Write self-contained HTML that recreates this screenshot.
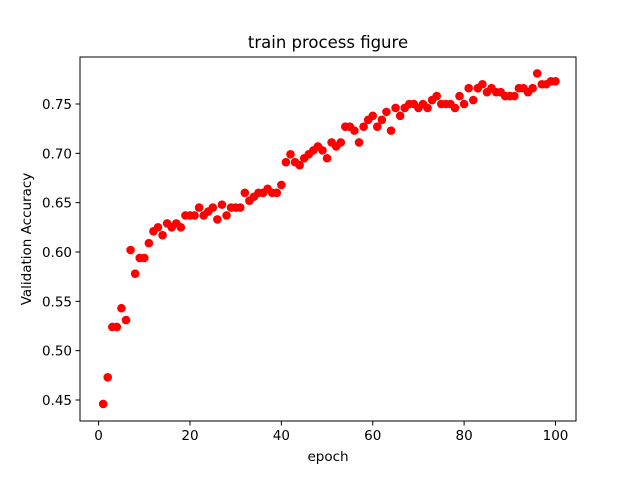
<!DOCTYPE html>
<html><head><meta charset="utf-8"><style>
html,body{margin:0;padding:0;background:#fff;}
svg text{font-family:"DejaVu Sans","Liberation Sans",sans-serif;fill:#000;}
</style></head><body>
<svg id="chart" width="640" height="473" xmlns="http://www.w3.org/2000/svg">
<rect x="0" y="0" width="640" height="473" fill="#fff"/>
<text x="328" y="48" font-size="16.5" text-anchor="middle">train process figure</text>
<text x="328" y="461" font-size="13.5" text-anchor="middle">epoch</text>
<text x="31" y="239" font-size="13.5" text-anchor="middle" transform="rotate(-90 31 239)">Validation Accuracy</text>
<g id="plot"></g>
</svg>
<script>
const epochs = Array.from({length:100},(_,i)=>i+1);
const accuracy = [0.446,0.473,0.524,0.524,0.543,0.531,0.602,0.578,0.594,0.594,
0.609,0.621,0.625,0.617,0.629,0.625,0.629,0.625,0.637,0.637,
0.637,0.645,0.637,0.641,0.645,0.633,0.648,0.637,0.645,0.645,
0.645,0.660,0.652,0.656,0.660,0.660,0.664,0.660,0.660,0.668,
0.691,0.699,0.691,0.688,0.695,0.699,0.703,0.707,0.703,0.695,
0.711,0.707,0.711,0.727,0.727,0.723,0.711,0.727,0.734,0.738,
0.727,0.734,0.742,0.723,0.746,0.738,0.746,0.750,0.750,0.746,
0.750,0.746,0.754,0.758,0.750,0.750,0.750,0.746,0.758,0.750,
0.766,0.754,0.766,0.770,0.762,0.766,0.762,0.762,0.758,0.758,
0.758,0.766,0.766,0.762,0.766,0.781,0.770,0.770,0.773,0.773];
const xTicks = [0,20,40,60,80,100];
const yTicks = [0.45,0.50,0.55,0.60,0.65,0.70,0.75];
const yTickLabels = ["0.45","0.50","0.55","0.60","0.65","0.70","0.75"];

const L=80,R=576,T=57,B=421;
const xs = v => 98.6 + v*4.569;
const ys = v => 400 - (v-0.45)*986.7;
const NS="http://www.w3.org/2000/svg";
const g=document.getElementById('plot');
function mk(tag,attrs){const e=document.createElementNS(NS,tag);for(const k in attrs)e.setAttribute(k,attrs[k]);g.appendChild(e);return e;}

epochs.forEach((e,i)=>{
  const c=mk('circle',{cx:xs(e),cy:ys(accuracy[i]),r:4.3,fill:'#ff0000'});
  
  
});
const frame=mk('rect',{x:L,y:T,width:R-L,height:B-T,fill:'none',stroke:'#000','stroke-width':1});


xTicks.forEach(t=>{
  const x=xs(t);
  const ln=mk('line',{x1:x,x2:x,y1:B,y2:B+4.5,stroke:'#000','stroke-width':1});
  
  
  const tx=mk('text',{x:x,y:B+19,'font-size':13.5,'text-anchor':'middle'});
  tx.textContent=String(t);
  
  
});
yTicks.forEach((t,i)=>{
  const y=ys(t);
  const ln=mk('line',{x1:L-4.5,x2:L,y1:y,y2:y,stroke:'#000','stroke-width':1});
  
  
  const tx=mk('text',{x:L-8,y:y+5,'font-size':13.5,'text-anchor':'end'});
  tx.textContent=yTickLabels[i];
  
  
});
</script>
</body></html>
